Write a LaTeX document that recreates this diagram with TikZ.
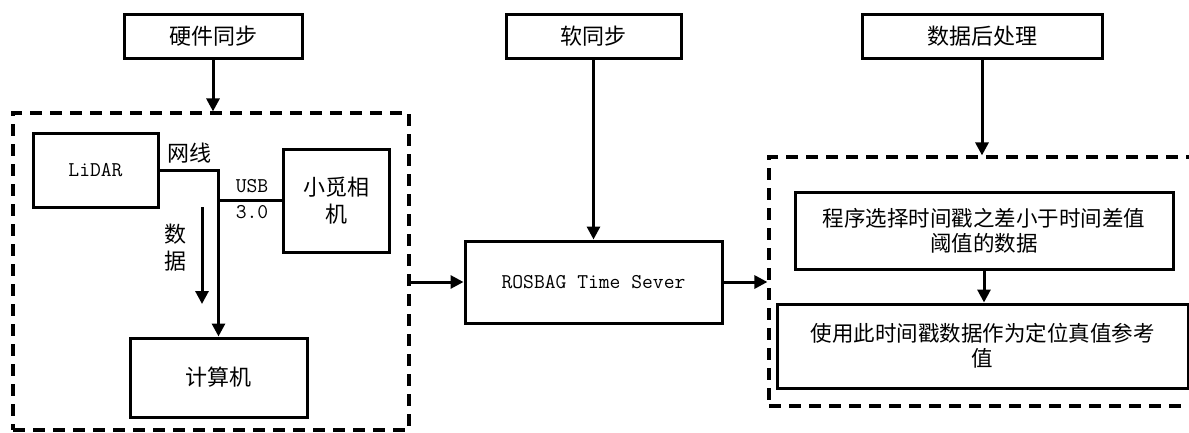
\documentclass[tikz,border=0pt]{standalone}
\usepackage{fontspec}
\setmainfont{Noto Sans CJK SC}
\usetikzlibrary{arrows.meta}
\newcommand\zh{\fontsize{22}{26}\selectfont}
\newcommand\en{\ttfamily\fontsize{21}{26}\selectfont}
\tikzset{
  box/.style={draw, line width=3pt, inner sep=0pt, align=center, font=\zh},
  frame/.style={draw, line width=3.2pt, dash pattern=on 12pt off 8pt, inner sep=0pt},
  link/.style={line width=3pt},
  arr/.style={link, -{Triangle[length=13pt,width=13pt]}},
  lbl/.style={inner sep=0pt, font=\zh, align=center},
}
\begin{document}
\begin{tikzpicture}[x=1pt,y=-1pt]
\useasboundingbox (0,0) rectangle (1189,432);
\clip (0,0) rectangle (1189,432);

% stage headings
\node[box, minimum width=178pt, minimum height=44pt] (hw)   at (213,36)   {硬件同步};
\node[box, minimum width=175pt, minimum height=44pt] (soft) at (593.5,36) {软同步};
\node[box, minimum width=240pt, minimum height=44pt] (post) at (982,36)   {数据后处理};

% dashed groups
\node[frame, minimum width=396pt, minimum height=317pt] (lframe) at (211,271.5) {};
\node[frame, minimum width=440pt, minimum height=249pt] (rframe) at (989,281.5) {};

% hardware sync group
\node[box, minimum width=125pt, minimum height=74pt, font=\en] (lidar) at (95.5,170) {LiDAR};
\node[box, minimum width=106pt, minimum height=103pt, font=\fontsize{22}{27}\selectfont] (cam) at (336,200.5) {小觅相\\机};
\node[box, minimum width=177pt, minimum height=79pt] (comp) at (218.5,377.5) {计算机};

% soft sync
\node[box, minimum width=257pt, minimum height=82pt, font=\en] (ros) at (593.5,282) {ROSBAG Time Sever};

% post-processing group
\node[box, minimum width=378pt, minimum height=77pt, font=\fontsize{21.5}{25}\selectfont] (boxA) at (984,230.5)
  {程序选择时间戳之差小于时间差值\\阈值的数据};
\node[box, minimum width=411pt, minimum height=84pt, font=\fontsize{21.5}{25}\selectfont] (boxB) at (982.5,346)
  {使用此时间戳数据作为定位真值参考\\值};

% labels
\node[lbl] (wx) at (189,153) {网线};
\node[lbl, font=\en] (usb) at (252,186) {USB};
\node[lbl, font=\en] (v30) at (252,212) {3.0};
\node[lbl, font=\fontsize{22}{27}\selectfont] (sj) at (175,248) {数\\据};

% connectors
\draw[arr] (hw) -- (hw |- lframe.north);
\draw[arr] (soft) -- (ros);
\draw[arr] (post) -- (post |- rframe.north);
\draw[arr] (lframe.east |- ros) -- (ros.west);
\draw[arr] (ros) -- (rframe.west |- ros);
\draw[arr] (boxA.south) -- (boxA.south |- boxB.north);
\draw[arr] (lidar.east) -| (comp.north);
\draw[link] (cam.west) -- (cam.west -| comp.north);
\coordinate (d1) at (202,207);
\coordinate (d2) at (202,304);
\draw[arr] (d1) -- (d2);
\end{tikzpicture}
\end{document}
